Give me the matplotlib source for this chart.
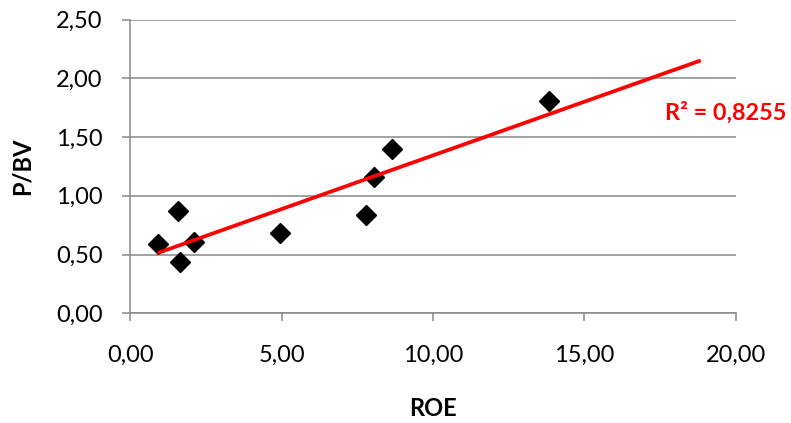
import matplotlib
matplotlib.use("Agg")
import matplotlib.pyplot as plt
import numpy as np
from matplotlib.ticker import FuncFormatter, MultipleLocator

roe = [0.90, 1.57, 1.65, 2.11, 4.94, 7.77, 8.04, 8.64, 13.84]
pbv = [0.59, 0.87, 0.44, 0.61, 0.68, 0.835, 1.16, 1.40, 1.81]
r2_label = "R² = 0,8255"
x_label = "ROE"
y_label = "P/BV"
forecast_forward = 5.0

plt.rcParams['font.family'] = ['Lato', 'DejaVu Sans']

fig = plt.figure(figsize=(7.91, 4.23), dpi=100)
ax = fig.add_axes([0.1647, 0.2593, 0.9303 - 0.1647, 0.9537 - 0.2593])

grid_c = '#878787'
ax.set_xlim(0, 20)
ax.set_ylim(0, 2.5)
ax.xaxis.set_major_locator(MultipleLocator(5))
ax.yaxis.set_major_locator(MultipleLocator(0.5))
fmt = FuncFormatter(lambda v, p: f"{v:.2f}".replace('.', ','))
ax.xaxis.set_major_formatter(fmt)
ax.yaxis.set_major_formatter(fmt)

ax.yaxis.grid(True, color=grid_c, linewidth=1.1)
ax.set_axisbelow(True)
for s in ['top', 'right']:
    ax.spines[s].set_visible(False)
for s in ['left', 'bottom']:
    ax.spines[s].set_color(grid_c)
    ax.spines[s].set_linewidth(1.1)
ax.tick_params(axis='both', colors=grid_c, length=5.8, width=1.1, labelsize=17,
               labelcolor='black')
ax.tick_params(axis='y', pad=14)
ax.tick_params(axis='x', pad=17)

ax.plot(roe, pbv, linestyle='none', marker='D', markersize=10.5,
        color='black', zorder=3)

xa = np.array(roe)
ya = np.array(pbv)
slope, intercept = np.polyfit(xa, ya, 1)
xl = np.array([xa.min(), xa.max() + forecast_forward])
ax.plot(xl, slope * xl + intercept, color='#ff0000', linewidth=2.7, zorder=4,
        solid_capstyle='butt')

fig.text(665 / 791, 1 - 112.7 / 423, r2_label, color='#ff0000', fontsize=16.8,
         fontweight='bold', ha='left', va='center')

fig.text(433 / 791, 1 - 408.5 / 423, x_label, fontsize=17, fontweight='bold',
         ha='center', va='center')
fig.text(22 / 791, 1 - 166.5 / 423, y_label, fontsize=17, fontweight='bold',
         ha='center', va='center', rotation=90)

fig.savefig('out.png', dpi=100)
